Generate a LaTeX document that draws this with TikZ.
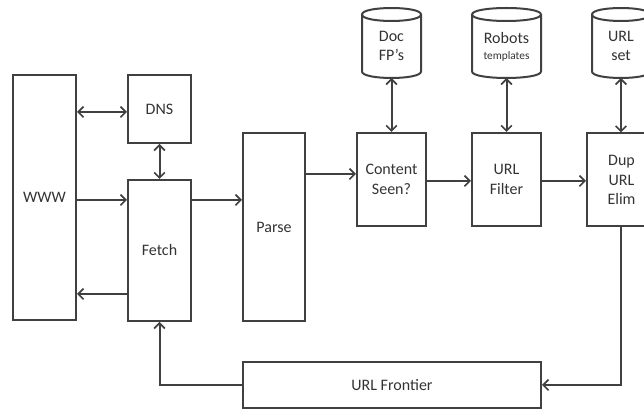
\documentclass[tikz,border=0pt]{standalone}
\usepackage{fontspec}
\setmainfont{Carlito}
\usetikzlibrary{arrows.meta}
\definecolor{ln}{HTML}{404040}
\definecolor{tx}{HTML}{333333}
\tikzset{
  line/.style={draw=ln, line width=1.5pt},
  box/.style={line, rectangle, inner sep=0pt, align=center, text=tx,
    font=\fontsize{12pt}{14.5pt}\selectfont},
  txt/.style={inner sep=0pt, align=center, text=tx,
    font=\fontsize{12pt}{14.5pt}\selectfont},
  conn/.style={line, -{Straight Barb[length=4pt,width=8pt,line width=1.3pt]}},
  biconn/.style={line, {Straight Barb[length=4pt,width=8pt,line width=1.3pt]}-{Straight Barb[length=4pt,width=8pt,line width=1.3pt]}}
}
\newcommand\dbcyl[5]{% cx rx top bottom ry
  \draw[line, fill=white] ({#1-#2},{#3+#5}) -- ({#1-#2},{#4-#5})
    .. controls ({#1-#2},{#4-#5+1.333*#5}) and ({#1+#2},{#4-#5+1.333*#5}) .. ({#1+#2},{#4-#5})
    -- ({#1+#2},{#3+#5});
  \draw[line] ({#1-#2},{#3+#5})
    .. controls ({#1-#2},{#3+#5-1.333*#5}) and ({#1+#2},{#3+#5-1.333*#5}) .. ({#1+#2},{#3+#5})
    .. controls ({#1+#2},{#3+#5+1.333*#5}) and ({#1-#2},{#3+#5+1.333*#5}) .. cycle;
}
\begin{document}
\begin{tikzpicture}[x=0.75pt, y=-0.75pt]
\useasboundingbox (0,0) rectangle (644,409);
\clip (0,0) rectangle (644,409);

% boxes
\node[box, minimum width=47.25pt, minimum height=183.75pt] (www) at (44.5,197.5) {WWW};
\node[box, minimum width=47.25pt, minimum height=51pt] (dns) at (159.5,109) {DNS};
\node[box, minimum width=47.25pt, minimum height=105.75pt] (fetch) at (159.5,250.5) {Fetch};
\node[box, minimum width=46.5pt, minimum height=141pt] (parse) at (274,227) {Parse};
\node[box, minimum width=51.75pt, minimum height=69.75pt] (content) at (391.5,179.5) {Content\\Seen?};
\node[box, minimum width=51.75pt, minimum height=69.75pt] (filter) at (506.5,179.5) {URL\\Filter};
\node[box, minimum width=51.75pt, minimum height=69.75pt] (dup) at (621.5,180) {Dup\\URL\\Elim};
\node[box, minimum width=223.5pt, minimum height=34.5pt] (frontier) at (392,385) {URL Frontier};

% databases
\dbcyl{391.5}{29.5}{8}{78}{6.5}
\dbcyl{506.5}{34.5}{8}{78}{6.5}
\dbcyl{621}{29}{8}{78}{6.5}
\node[txt] (docfp) at (391.5,46) {Doc\\FP’s};
\node[txt] (robots) at (506.5,47) {Robots\\[-3pt]{\fontsize{8.5pt}{10pt}\selectfont templates}};
\node[txt] (urlset) at (621,46) {URL\\set};
\coordinate (docb) at (391.5,78);
\coordinate (robb) at (506.5,78);
\coordinate (setb) at (621,78);

% connectors
\draw[biconn] (www.east |- 0,112) -- (dns.west |- 0,112);
\draw[biconn] (dns.south) -- (fetch.north);
\draw[conn] (www.east |- 0,200) -- (fetch.west |- 0,200);
\draw[conn] (fetch.west |- 0,294) -- (www.east |- 0,294);
\draw[conn] (fetch.east |- 0,200) -- (parse.west |- 0,200);
\draw[conn] (parse.east |- 0,174) -- (content.west |- 0,174);
\draw[conn] (content.east |- 0,181) -- (filter.west |- 0,181);
\draw[conn] (filter.east |- 0,181) -- (dup.west |- 0,181);
\draw[biconn] (docb) -- (content.north);
\draw[biconn] (robb) -- (filter.north);
\draw[biconn] (setb) -- (setb |- dup.north);
\draw[conn] (setb |- dup.south) -- (setb |- frontier.east) -- (frontier.east);
\draw[conn] (frontier.west) -- (fetch.south |- frontier.west) -- (fetch.south);
\end{tikzpicture}
\end{document}
